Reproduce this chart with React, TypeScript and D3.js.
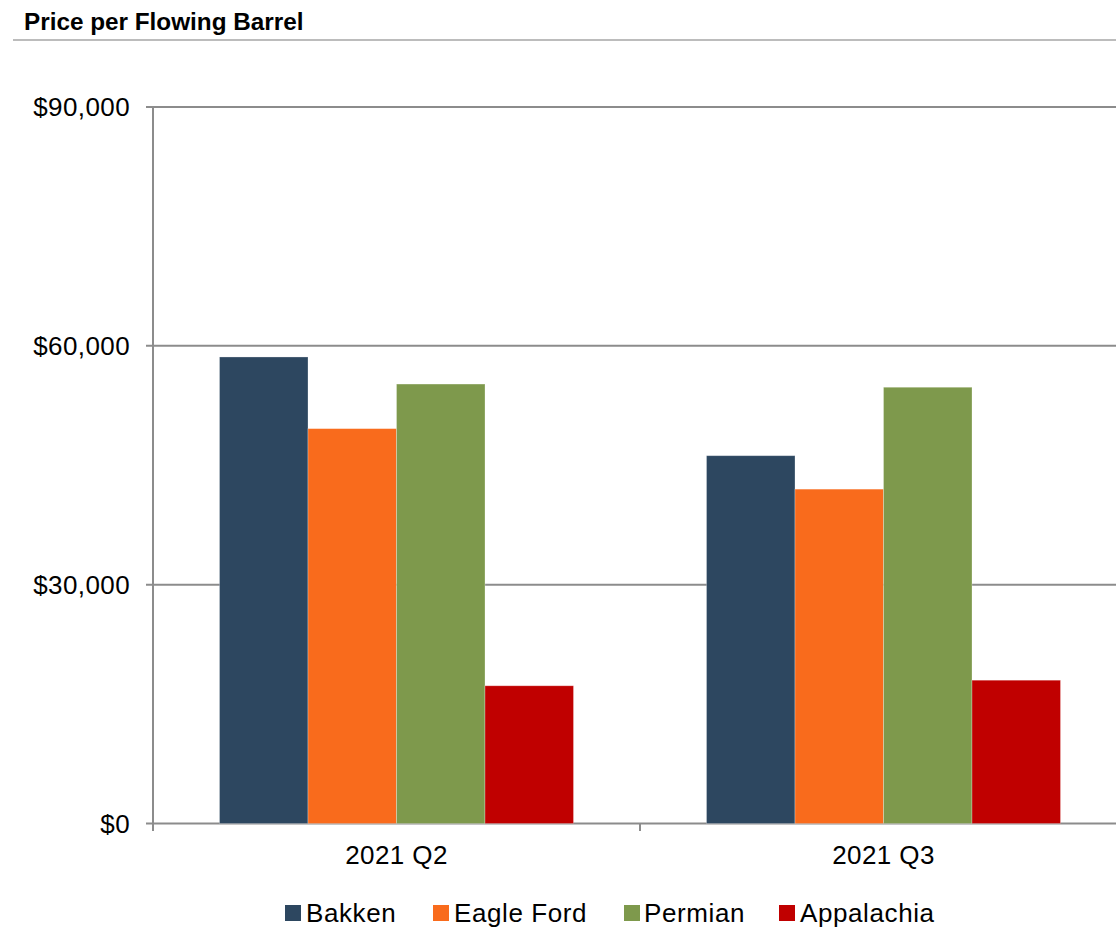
import React from "react";
import * as d3 from "d3";

const categories = ["2021 Q2", "2021 Q3"];
const seriesNames = ["Bakken", "Eagle Ford", "Permian", "Appalachia"];
const seriesColors = ["#2D4760", "#F96B1C", "#7E994C", "#C00000"];
const bakken = [58600, 46200];
const eagleFord = [49600, 42000];
const permian = [55200, 54800];
const appalachia = [17300, 18000];
const yTicks = [0, 30000, 60000, 90000];
const title = "Price per Flowing Barrel";

const seriesValues = [bakken, eagleFord, permian, appalachia];

export default function App() {
  const W = 1116;
  const H = 928;
  const left = 153;
  const right = 1127;
  const top = 107;
  const bottom = 823.5;
  const font = "'Liberation Sans', Arial, Helvetica, sans-serif";

  const x0 = d3.scaleBand<string>().domain(categories).range([left, right]).padding(0);
  const bw = x0.bandwidth();
  const x1 = d3.scaleBand<string>().domain(seriesNames).range([66.5, bw - 66.5]).padding(0);
  const y = d3.scaleLinear().domain([0, 90000]).range([bottom, top]);
  const fmt = (v: number) => "$" + d3.format(",")(v);

  const grid = "#8C8C8C";

  const legendItems = [
    { sq: 285, tx: 306 },
    { sq: 433, tx: 454 },
    { sq: 624, tx: 644 },
    { sq: 779, tx: 800 },
  ];

  return (
    <svg
      width={W}
      height={H}
      style={{ position: "absolute", left: 0, top: 0, background: "#fff" }}
      fontFamily={font}
    >
      <rect x={0} y={0} width={W} height={H} fill="#fff" />
      <text x={24} y={30} fontSize={24.3} fontWeight="bold" fill="#000">
        {title}
      </text>
      <line x1={13} x2={W} y1={40} y2={40} stroke="#A6A6A6" strokeWidth={1.5} />

      {yTicks.map((t) => (
        <g key={t}>
          <line x1={left - 7} x2={W} y1={y(t)} y2={y(t)} stroke={grid} strokeWidth={2} />
          <text
            x={130}
            y={y(t)}
            dy="0.36em"
            textAnchor="end"
            fontSize={26}
            letterSpacing={0.4}
            fill="#000"
          >
            {fmt(t)}
          </text>
        </g>
      ))}

      {categories.map((c, ci) => (
        <g key={c}>
          {seriesNames.map((s, si) => {
            const v = seriesValues[si][ci];
            const xx = (x0(c) as number) + (x1(s) as number);
            return (
              <rect
                key={s}
                x={xx}
                y={y(v)}
                width={x1.bandwidth()}
                height={bottom - y(v)}
                fill={seriesColors[si]}
                stroke="#ffffff"
                strokeOpacity={0.35}
                strokeWidth={0.8}
              />
            );
          })}
          <text
            x={(x0(c) as number) + bw / 2}
            y={864}
            textAnchor="middle"
            fontSize={26}
            letterSpacing={0.4}
            fill="#000"
          >
            {c}
          </text>
        </g>
      ))}

      <line x1={left} x2={left} y1={top} y2={831} stroke={grid} strokeWidth={2} />
      {categories.slice(1).map((c) => (
        <line
          key={c}
          x1={x0(c) as number}
          x2={x0(c) as number}
          y1={bottom}
          y2={831}
          stroke={grid}
          strokeWidth={2}
        />
      ))}

      {seriesNames.map((s, i) => (
        <g key={s}>
          <rect x={legendItems[i].sq} y={905} width={16} height={16} fill={seriesColors[i]} />
          <text x={legendItems[i].tx} y={922} fontSize={26} letterSpacing={0.6} fill="#000">
            {s}
          </text>
        </g>
      ))}
    </svg>
  );
}
